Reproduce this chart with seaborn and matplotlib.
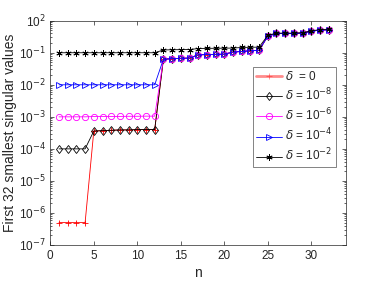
import numpy as np
import pandas as pd
import matplotlib
matplotlib.use("Agg")
import matplotlib.pyplot as plt
import matplotlib.ticker as mticker
import seaborn as sns

# ---- data ----
n = list(range(1, 33))

# values n = 13..32 where the four smallest-delta curves coincide
upper = [0.063, 0.065, 0.067, 0.068, 0.086, 0.088, 0.089, 0.090, 0.105, 0.110,
         0.115, 0.120, 0.33, 0.40, 0.40, 0.40, 0.41, 0.47, 0.51, 0.52]
mid = [3.6e-4, 3.7e-4, 3.8e-4, 3.9e-4, 3.9e-4, 4.0e-4, 4.0e-4, 4.0e-4]  # n = 5..12

d0 = [5e-7] * 4 + mid + upper
d8 = [1.0e-4] * 4 + mid + upper
d6 = [1.0e-3, 1.0e-3, 1.0e-3, 1.0e-3, 1.02e-3, 1.02e-3, 1.03e-3, 1.03e-3,
      1.04e-3, 1.04e-3, 1.05e-3, 1.05e-3] + upper
d4 = [0.0100] * 12 + upper
d2 = [0.100] * 12 + [0.122, 0.124, 0.125, 0.126, 0.135, 0.137, 0.138, 0.139,
                     0.140, 0.146, 0.148, 0.150, 0.35, 0.41, 0.41, 0.41, 0.42,
                     0.48, 0.53, 0.54]

labels = [r"$\delta$  = 0", r"$\delta$ = 10$^{-8}$", r"$\delta$ = 10$^{-6}$",
          r"$\delta$ = 10$^{-4}$", r"$\delta$ = 10$^{-2}$"]
series = [d0, d8, d6, d4, d2]
colors = ["#ff0000", "#000000", "#ff00ff", "#0000ff", "#000000"]
markers = ["+", "d", "o", ">", (6, 2, 0)]

sns.set_style("ticks")
plt.rcParams["font.family"] = ["Liberation Sans", "DejaVu Sans"]
plt.rcParams["mathtext.fontset"] = "dejavusans"

fig = plt.figure(figsize=(3.82, 2.86), dpi=100)
ax = fig.add_axes([0.1317, 0.1434, 0.7743, 0.7842])

for vals, lab, c, m in zip(series, labels, colors, markers):
    df = pd.DataFrame({"n": n, "s": vals})
    sns.lineplot(data=df, x="n", y="s", ax=ax, color=c, marker=m, label=lab,
                 markersize=4.5, markeredgecolor=c, markerfacecolor="none",
                 markeredgewidth=0.6, linewidth=0.6, errorbar=None, sort=False)

ax.set_yscale("log")
ax.set_xlim(0, 34)
ax.set_ylim(1e-7, 1e0)
ax.set_xticks([0, 5, 10, 15, 20, 25, 30])
ax.xaxis.set_minor_locator(mticker.NullLocator())
yt = [1e-7, 1e-6, 1e-5, 1e-4, 1e-3, 1e-2, 1e-1, 1e0]
ax.set_yticks(yt)
ax.set_yticklabels([r"10$^{-7}$", r"10$^{-6}$", r"10$^{-5}$", r"10$^{-4}$",
                    r"10$^{-3}$", r"10$^{-2}$", r"10$^{-1}$", r"10$^{2}$"])
ax.yaxis.set_minor_locator(mticker.LogLocator(base=10, subs=np.arange(2, 10), numticks=20))
ax.yaxis.set_minor_formatter(mticker.NullFormatter())

ax.tick_params(which="both", direction="in", top=True, right=True,
               colors="#262626", labelsize=8.5, width=0.5)
ax.tick_params(which="major", length=3)
ax.tick_params(which="minor", length=1.6)
for sp in ax.spines.values():
    sp.set_color("#262626")
    sp.set_linewidth(0.5)

ax.set_xlabel("n", fontsize=10, color="#262626", labelpad=3)
ax.set_ylabel("First 32 smallest singular values", fontsize=10, color="#262626", labelpad=1)

leg = ax.legend(loc="upper right", bbox_to_anchor=(0.965, 0.795), fontsize=8.5,
                frameon=True, fancybox=False, edgecolor="#262626",
                handlelength=2.2, handletextpad=0.2, borderpad=0.3, labelspacing=0.3,
                borderaxespad=0)
leg.get_frame().set_linewidth(0.5)
hl = leg.get_lines()[0]
hl.set_linewidth(2)
hl.set_alpha(0.45)

fig.savefig("out.png", dpi=100)
